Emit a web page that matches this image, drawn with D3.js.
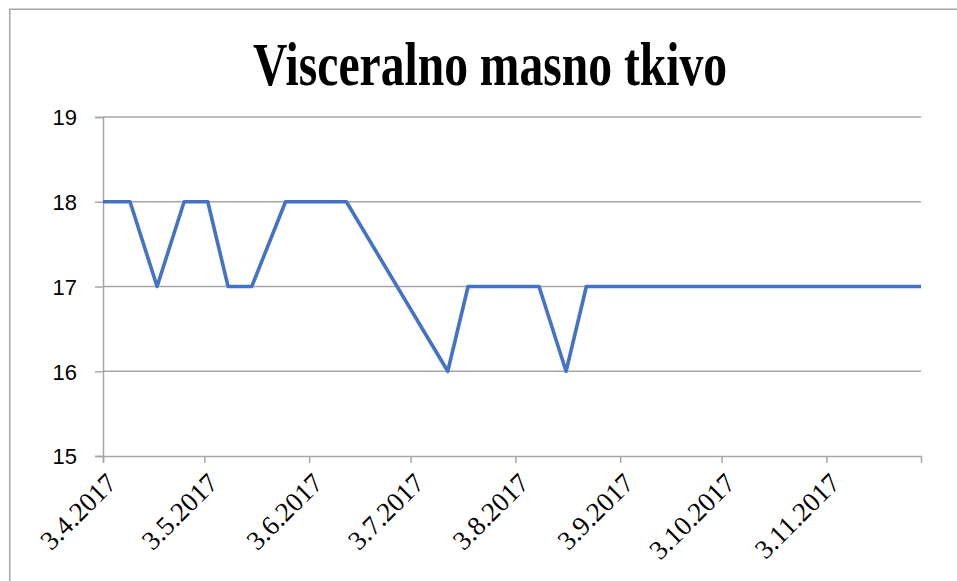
<!DOCTYPE html>
<html>
<head>
<meta charset="utf-8">
<script src="https://cdn.jsdelivr.net/npm/d3@7"></script>
<style>
  html, body { margin: 0; padding: 0; background: #fff; }
  svg { display: block; }
  .xlab { font-family: "Liberation Serif", "Times New Roman", serif; font-size: 27px; font-weight: normal; }
  .ylab { font-family: "Liberation Sans", Arial, sans-serif; font-size: 22px; }
</style>
</head>
<body>
<svg id="chart" width="957" height="581"></svg>
<script>
// ---- data ----
const title = "Visceralno masno tkivo";
const dates = ["2017-04-03","2017-04-11","2017-04-19","2017-04-27","2017-05-04","2017-05-10",
               "2017-05-17","2017-05-27","2017-06-14","2017-07-14","2017-07-20","2017-08-10",
               "2017-08-18","2017-08-24","2017-12-01"];
const values = [18, 18, 17, 18, 18, 17, 17, 18, 18, 16, 17, 17, 16, 17, 17];
const xTickDates = ["2017-04-03","2017-05-03","2017-06-03","2017-07-03","2017-08-03",
                    "2017-09-03","2017-10-03","2017-11-03"];
const yTicks = [15, 16, 17, 18, 19];
const xDomain = ["2017-04-03", "2017-12-01"];
const yDomain = [15, 19];

// ---- drawing ----
const parse = d3.timeParse("%Y-%m-%d");
const fmt = d3.timeFormat("%-d.%-m.%Y");
const svg = d3.select("#chart");
const W = 957, H = 581;
const plot = { left: 103, right: 921, top: 117, bottom: 456 };
const grey = "#a6a6a6";

svg.append("rect").attr("width", W).attr("height", H).attr("fill", "#fff");
// outer chart frame (right/bottom edges fall outside the picture)
svg.append("rect")
  .attr("x", 9.75).attr("y", 9.25).attr("width", 980).attr("height", 620)
  .attr("fill", "none").attr("stroke", grey).attr("stroke-width", 1.5);

svg.append("text")
  .attr("x", 490).attr("y", 85)
  .attr("text-anchor", "middle")
  .style("font-family", "'Liberation Serif', 'Times New Roman', serif")
  .style("font-weight", "bold")
  .style("font-size", "62px")
  .attr("textLength", 474)
  .attr("lengthAdjust", "spacingAndGlyphs")
  .attr("fill", "#000")
  .text(title);

const x = d3.scaleTime().domain(xDomain.map(parse)).range([plot.left, plot.right]);
const y = d3.scaleLinear().domain(yDomain).range([plot.bottom, plot.top]);

// gridlines
svg.append("g")
  .selectAll("line").data(yTicks.filter(t => t !== yDomain[0])).join("line")
  .attr("x1", plot.left).attr("x2", plot.right)
  .attr("y1", d => y(d)).attr("y2", d => y(d))
  .attr("stroke", grey).attr("stroke-width", 1.5);

// y axis
const yAxis = svg.append("g")
  .attr("transform", `translate(${plot.left},0)`)
  .call(d3.axisLeft(y).tickValues(yTicks).tickSize(8).tickPadding(18).tickFormat(d3.format("d")));
yAxis.attr("font-family", null).attr("font-size", null);
yAxis.select(".domain").attr("stroke", grey).attr("stroke-width", 1.5);
yAxis.selectAll(".tick line").attr("stroke", grey).attr("stroke-width", 1.5);
yAxis.selectAll(".tick text")
  .attr("class", "ylab")
  .attr("fill", "#000").attr("dy", "0.36em");

// x axis
const xAxis = svg.append("g")
  .attr("transform", `translate(0,${plot.bottom})`)
  .call(d3.axisBottom(x).tickValues(xTickDates.map(parse)).tickSize(7).tickFormat(fmt));
xAxis.attr("font-family", null).attr("font-size", null);
xAxis.select(".domain").attr("stroke", grey).attr("stroke-width", 1.5);
xAxis.selectAll(".tick line").attr("stroke", grey).attr("stroke-width", 1.5);
xAxis.selectAll(".tick text")
  .attr("class", "xlab")
  .attr("fill", "#000")
  .attr("text-anchor", "end")
  .attr("y", 0).attr("dy", "0.66em")
  .attr("transform", "translate(2,16) rotate(-45)");

// line
const pts = dates.map((d, i) => ({ date: parse(d), value: values[i] }));
svg.append("path")
  .datum(pts)
  .attr("fill", "none")
  .attr("stroke", "#4472C4")
  .attr("stroke-width", 3.6)
  .attr("stroke-linejoin", "round")
  .attr("d", d3.line().x(d => x(d.date)).y(d => y(d.value)));
</script>
</body>
</html>
